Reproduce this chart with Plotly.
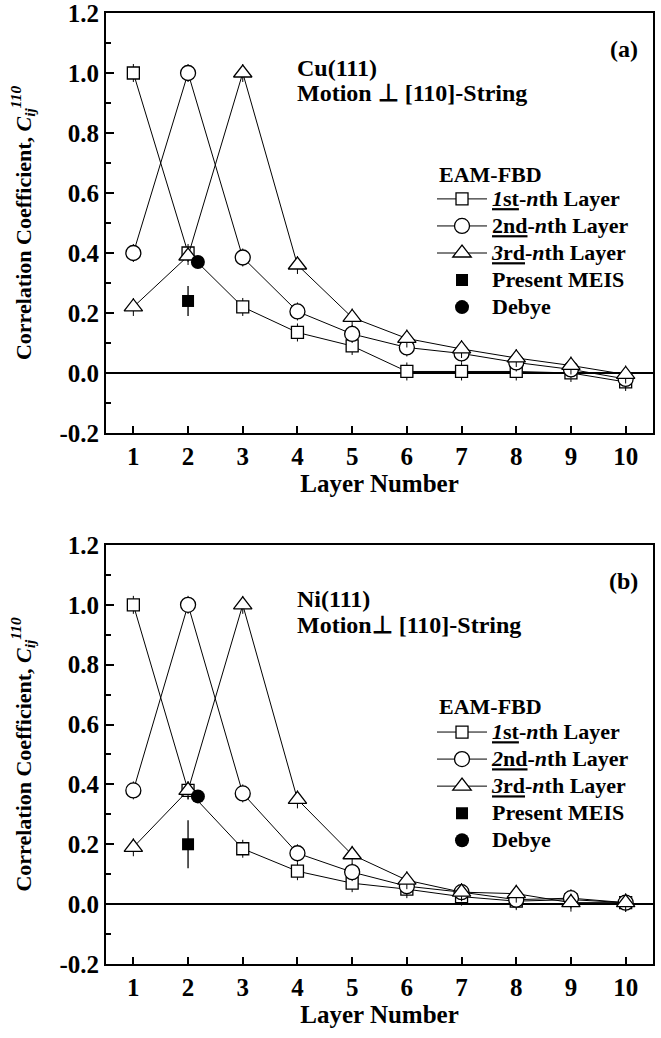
import plotly.graph_objects as go

layers = [1, 2, 3, 4, 5, 6, 7, 8, 9, 10]

# Panel (a) Cu(111)
cu_1st = [1.0, 0.40, 0.22, 0.135, 0.09, 0.005, 0.005, 0.005, 0.0, -0.03]
cu_2nd = [0.40, 1.0, 0.385, 0.205, 0.13, 0.085, 0.065, 0.035, 0.012, -0.02]
cu_3rd = [0.22, 0.39, 1.0, 0.36, 0.185, 0.115, 0.08, 0.05, 0.025, -0.005]
cu_meis_x, cu_meis_y, cu_meis_err = [2], [0.24], [0.05]
cu_debye_x, cu_debye_y = [2.18], [0.37]

# Panel (b) Ni(111)
ni_1st = [1.0, 0.38, 0.185, 0.11, 0.07, 0.05, 0.025, 0.01, 0.015, 0.005]
ni_2nd = [0.38, 1.0, 0.37, 0.17, 0.107, 0.06, 0.04, 0.015, 0.02, 0.005]
ni_3rd = [0.19, 0.38, 1.0, 0.35, 0.165, 0.08, 0.04, 0.035, 0.005, 0.005]
ni_meis_x, ni_meis_y, ni_meis_err = [2], [0.20], [0.08]
ni_debye_x, ni_debye_y = [2.18], [0.36]

# small statistical uncertainty of the EAM-FBD values
eam_err = 0.03

FONT = "Liberation Serif"
fig = go.Figure()


def big(t):
    return f'<b><span style="font-size:22px">{t}</span></b>'


def add_panel(xa, ya, leg, s1, s2, s3, mx, my, me, dx, dy, names):
    common = dict(x=layers, mode="lines+markers", xaxis=xa, yaxis=ya, legend=leg,
                  line=dict(color="black", width=1),
                  error_y=dict(type="constant", value=eam_err, color="black",
                               thickness=1, width=0))
    fig.add_trace(go.Scatter(y=s1, name=big(names[0]),
                             marker=dict(symbol="square", size=12, color="white",
                                         line=dict(color="black", width=1.3)), **common))
    fig.add_trace(go.Scatter(y=s2, name=big(names[1]),
                             marker=dict(symbol="circle", size=15, color="white",
                                         line=dict(color="black", width=1.3)), **common))
    fig.add_trace(go.Scatter(y=s3, name=big(names[2]),
                             marker=dict(symbol="triangle-up", size=16, color="white",
                                         line=dict(color="black", width=1.3)), **common))
    fig.add_trace(go.Scatter(x=mx, y=my, mode="markers", name=big("Present MEIS"),
                             xaxis=xa, yaxis=ya, legend=leg,
                             error_y=dict(type="data", array=me, color="black",
                                          thickness=1.3, width=0),
                             marker=dict(symbol="square", size=12, color="black")))
    fig.add_trace(go.Scatter(x=dx, y=dy, mode="markers", name=big("Debye"),
                             xaxis=xa, yaxis=ya, legend=leg,
                             marker=dict(symbol="circle", size=14, color="black")))


names_a = ["<u><i>1</i>st</u>-<i>n</i>th Layer", "<u>2nd</u>-<i>n</i>th Layer",
           "<u><i>3</i>rd</u>-<i>n</i>th Layer"]
names_b = ["<u><i>1</i>st</u>-<i>n</i>th Layer", "<u><i>2</i>nd</u>-<i>n</i>th Layer",
           "<u><i>3</i>rd</u>-<i>n</i>th Layer"]

add_panel("x", "y", "legend", cu_1st, cu_2nd, cu_3rd, cu_meis_x, cu_meis_y,
          cu_meis_err, cu_debye_x, cu_debye_y, names_a)
add_panel("x2", "y2", "legend2", ni_1st, ni_2nd, ni_3rd, ni_meis_x, ni_meis_y,
          ni_meis_err, ni_debye_x, ni_debye_y, names_b)

tickfont = dict(family=FONT, size=25, color="black")
titlefont = dict(family=FONT, size=22, color="black")
ytitle = "<b>Correlation Coefficient, <i>C</i><sub><i>ij</i></sub><sup><i>110</i></sup></b>"

xcommon = dict(range=[0.5, 10.5], tickvals=layers, ticktext=[f"<b>{v}</b>" for v in layers],
               ticks="inside", ticklen=7, tickwidth=2, tickcolor="black",
               showline=True, linewidth=2, linecolor="black", mirror=True,
               showgrid=False, zeroline=False, tickfont=tickfont, automargin=False,
               ticklabeloverflow="allow",
               title=dict(text="<b>Layer Number</b>", font=dict(family=FONT, size=25, color="black"),
                          standoff=5))
yvals = [-0.2, 0.0, 0.2, 0.4, 0.6, 0.8, 1.0, 1.2]
ycommon = dict(range=[-0.2, 1.2], tickvals=yvals,
               ticktext=[f"<b>{v:.1f}</b>" for v in yvals],
               ticks="inside", ticklen=8, tickwidth=2, tickcolor="black",
               minor=dict(dtick=0.1, ticks="inside", ticklen=5, tickwidth=2, tickcolor="black"),
               showline=True, linewidth=2, linecolor="black", mirror=True,
               showgrid=False, zeroline=True, zerolinecolor="black", zerolinewidth=1.8,
               tickfont=tickfont, automargin=False, ticklabeloverflow="allow",
               title=dict(text=ytitle, font=titlefont, standoff=22))

legend_common = dict(xanchor="left", yanchor="top", bgcolor="rgba(0,0,0,0)",
                     font=dict(family=FONT, size=18.5, color="black"),
                     tracegroupgap=0, itemwidth=50)

fig.update_layout(
    width=661, height=1038,
    margin=dict(l=106, r=8, t=13, b=74),
    paper_bgcolor="white", plot_bgcolor="white",
    font=dict(family=FONT, color="black"),
    xaxis=dict(domain=[0, 1], anchor="y", **xcommon),
    yaxis=dict(domain=[0.5584, 1.0], anchor="x", **ycommon),
    xaxis2=dict(domain=[0, 1], anchor="y2", **xcommon),
    yaxis2=dict(domain=[0.0, 0.4406], anchor="x2", **ycommon),
    legend=dict(x=0.596, y=0.824, **legend_common),
    legend2=dict(x=0.596, y=0.2634, **legend_common),
    showlegend=True,
)

ann_font = dict(family=FONT, size=24, color="black")
for xr, yr, tag, mat, motion in [
        ("x domain", "y domain", "(a)", "Cu(111)", "Motion \u22a5 [110]-String"),
        ("x2 domain", "y2 domain", "(b)", "Ni(111)", "Motion\u22a5 [110]-String")]:
    fig.add_annotation(xref=xr, yref=yr, x=0.976, y=0.915, text=f"<b>{tag}</b>",
                       showarrow=False, xanchor="right", yanchor="middle", font=ann_font)
    fig.add_annotation(xref=xr, yref=yr, x=0.345, y=0.870, text=f"<b>{mat}</b>",
                       showarrow=False, xanchor="left", yanchor="middle", font=ann_font)
    fig.add_annotation(xref=xr, yref=yr, x=0.345, y=0.810, text=f"<b>{motion}</b>",
                       showarrow=False, xanchor="left", yanchor="middle", font=ann_font)
    fig.add_annotation(xref=xr, yref=yr, x=0.605, y=0.615, text="<b>EAM-FBD</b>",
                       showarrow=False, xanchor="left", yanchor="middle",
                       font=dict(family=FONT, size=22, color="black"))

fig.write_html("out.html", config={"displayModeBar": False},
               post_script="document.body.style.margin='0';document.body.style.overflow='hidden';")
